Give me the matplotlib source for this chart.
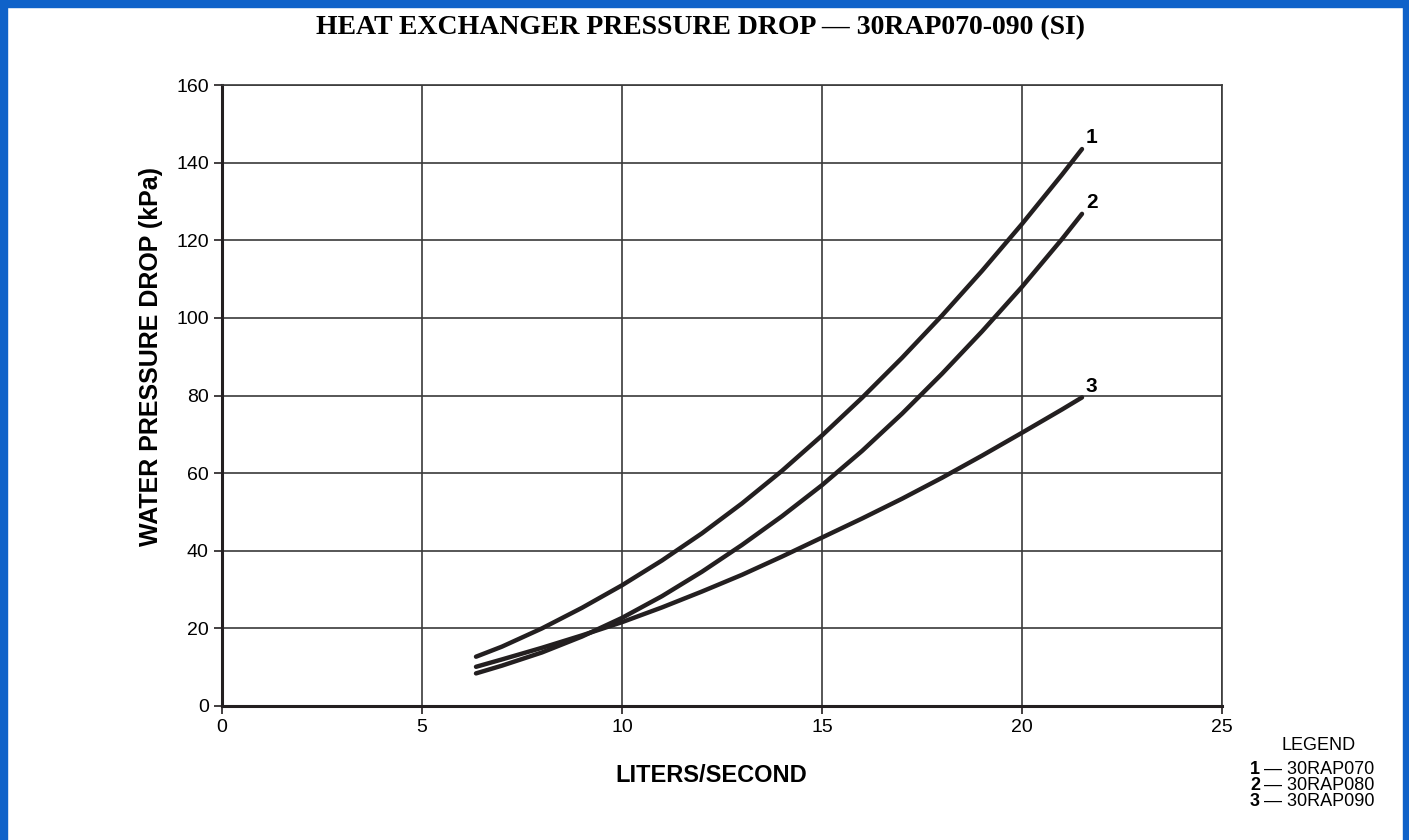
import matplotlib.pyplot as plt
from matplotlib.patches import Rectangle

# flow (l/s) and pressure drop (kPa)
flow = [6.35, 7, 8, 9, 10, 11, 12, 13, 14, 15, 16, 17, 18, 19, 20, 21, 21.5]
drop_070 = [12.7, 15.3, 20.0, 25.3, 31.1, 37.5, 44.5, 52.2, 60.6, 69.7, 79.4, 89.7, 100.6, 112.1, 124.2, 136.9, 143.5]
drop_080 = [8.4, 10.4, 13.8, 17.9, 22.7, 28.3, 34.6, 41.5, 48.9, 56.9, 65.7, 75.3, 85.6, 96.5, 108.0, 120.3, 126.8]
drop_090 = [10.1, 12.0, 15.0, 18.2, 21.6, 25.4, 29.5, 33.8, 38.5, 43.4, 48.3, 53.4, 58.8, 64.5, 70.4, 76.4, 79.5]

curve_ids = ['1', '2', '3']
models = ['30RAP070', '30RAP080', '30RAP090']
series = [drop_070, drop_080, drop_090]

xticks = [0, 5, 10, 15, 20, 25]
yticks = [0, 20, 40, 60, 80, 100, 120, 140, 160]

plt.rcParams['font.family'] = ['Liberation Sans', 'DejaVu Sans']

fig = plt.figure(figsize=(14.09, 8.4), dpi=100)
ax = fig.add_axes([222/1409, 134/840, 1000/1409, 621/840])

for ys, cid in zip(series, curve_ids):
    ax.plot(flow, ys, color='#231f20', lw=3.2, solid_capstyle='round', zorder=3)
    ax.annotate(cid, (flow[-1], ys[-1]), xytext=(7, 8), textcoords='offset points',
                ha='center', va='center', fontsize=15, fontweight='bold')

ax.set_xlim(0, 25)
ax.set_ylim(0, 160)
ax.set_xticks(xticks)
ax.set_yticks(yticks)
ax.tick_params(labelsize=14, length=6, width=1.2, color='#231f20', direction='out')
ax.grid(True, color='#3a3a3a', lw=1.2)
ax.set_axisbelow(True)
for s in ['top', 'right']:
    ax.spines[s].set_color('#3a3a3a')
    ax.spines[s].set_linewidth(1.2)
for s in ['left', 'bottom']:
    ax.spines[s].set_color('#231f20')
    ax.spines[s].set_linewidth(2.2)

# axis titles placed as in the original sheet (not centred on the axes)
fig.text(151/1409, 1 - 356/840, 'WATER PRESSURE DROP (kPa)', rotation=90,
         ha='center', va='center', fontsize=18, fontweight='bold')
fig.text(711/1409, 1 - 775/840, 'LITERS/SECOND', ha='center', va='center',
         fontsize=17, fontweight='bold')

fig.text(701/1409, 1 - 28/840, 'HEAT EXCHANGER PRESSURE DROP \u2014 30RAP070-090 (SI)',
         ha='center', va='center', fontsize=20, fontweight='bold',
         family=['Liberation Serif', 'DejaVu Serif'])

# legend block at bottom right
fig.text(1319/1409, 1 - 745/840, 'LEGEND', ha='center', va='center', fontsize=13)
for i, (cid, m) in enumerate(zip(curve_ids, models)):
    yy = 1 - (769 + i * 16.5) / 840
    fig.text(1250/1409, yy, cid, ha='left', va='center', fontsize=13, fontweight='bold')
    fig.text(1264/1409, yy, '\u2014 ' + m, ha='left', va='center', fontsize=13)

# blue frame (left, top, right)
blue = '#0f62c9'
fig.patches.append(Rectangle((0, 0), 7/1409, 1, transform=fig.transFigure, color=blue))
fig.patches.append(Rectangle((0, 1 - 7/840), 1, 7/840, transform=fig.transFigure, color=blue))
fig.patches.append(Rectangle((1 - 6/1409, 0), 6/1409, 1, transform=fig.transFigure, color=blue))

fig.savefig('out.png', dpi=100)
